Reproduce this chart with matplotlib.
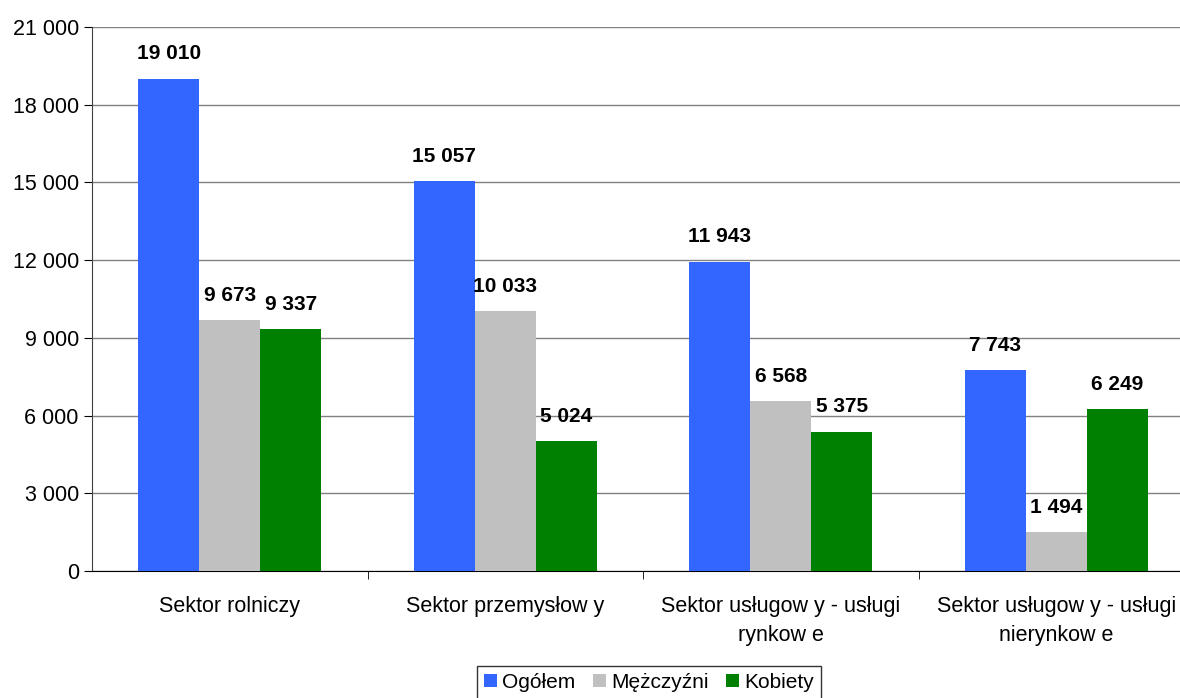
import matplotlib
matplotlib.use("Agg")
import matplotlib.pyplot as plt
import numpy as np
from matplotlib.ticker import FuncFormatter

plt.rcParams['font.family'] = ['Liberation Sans', 'DejaVu Sans']

categories = ["Sektor rolniczy", "Sektor przemysłow y",
              "Sektor usługow y - usługi\nrynkow e",
              "Sektor usługow y - usługi\nnierynkow e"]
series_names = ["Ogółem", "Mężczyźni", "Kobiety"]
ogolem = [19010, 15057, 11943, 7743]
mezczyzni = [9673, 10033, 6568, 1494]
kobiety = [9337, 5024, 5375, 6249]
colors = ["#3366FF", "#C0C0C0", "#008000"]


def fmt(v, pos=None):
    return f"{int(v):,}".replace(",", " ")


fig = plt.figure(figsize=(11.8, 6.98), dpi=100)
ax = fig.add_axes([92 / 1180, 1 - 571 / 698, 1102 / 1180, 544 / 698])

x = np.arange(len(categories))
w = 0.221
for i, (vals, c, name) in enumerate(zip([ogolem, mezczyzni, kobiety], colors, series_names)):
    pos = x + (i - 1) * w
    ax.bar(pos, vals, width=w, color=c, label=name, zorder=3)
    for px, v in zip(pos, vals):
        ax.annotate(fmt(v), (px, v), xytext=(0, 11), textcoords="offset points",
                    ha="center", va="bottom", fontsize=15, fontweight="bold")

ax.set_xlim(-0.5, len(categories) - 0.5)
ax.set_ylim(0, 21000)
ax.set_yticks(np.arange(0, 21001, 3000))
ax.yaxis.set_major_formatter(FuncFormatter(fmt))
ax.grid(axis="y", color="#808080", linewidth=1, zorder=0)

ax.set_xticks(x)
ax.set_xticklabels(categories, fontsize=15.5, linespacing=1.5)
ax.tick_params(axis="x", length=0, pad=18)
ax.set_xticks(np.arange(0.5, len(categories) - 0.5, 1), minor=True)
ax.tick_params(axis="x", which="minor", length=6, direction="out", color="black")
ax.tick_params(axis="y", labelsize=15.5, length=6, direction="out", color="black")

for s in ["top", "right"]:
    ax.spines[s].set_visible(False)
ax.spines["left"].set_color("#404040")
ax.spines["bottom"].set_color("black")

leg = fig.legend(loc="lower center", bbox_to_anchor=(649 / 1180, -0.017), ncol=3,
                 fontsize=15, frameon=True, fancybox=False, edgecolor="black",
                 handlelength=0.6, handleheight=0.6, handletextpad=0.25,
                 columnspacing=0.85, borderpad=0.35, borderaxespad=0.5)
leg.get_frame().set_linewidth(1)

fig.savefig("out.png", dpi=100)
